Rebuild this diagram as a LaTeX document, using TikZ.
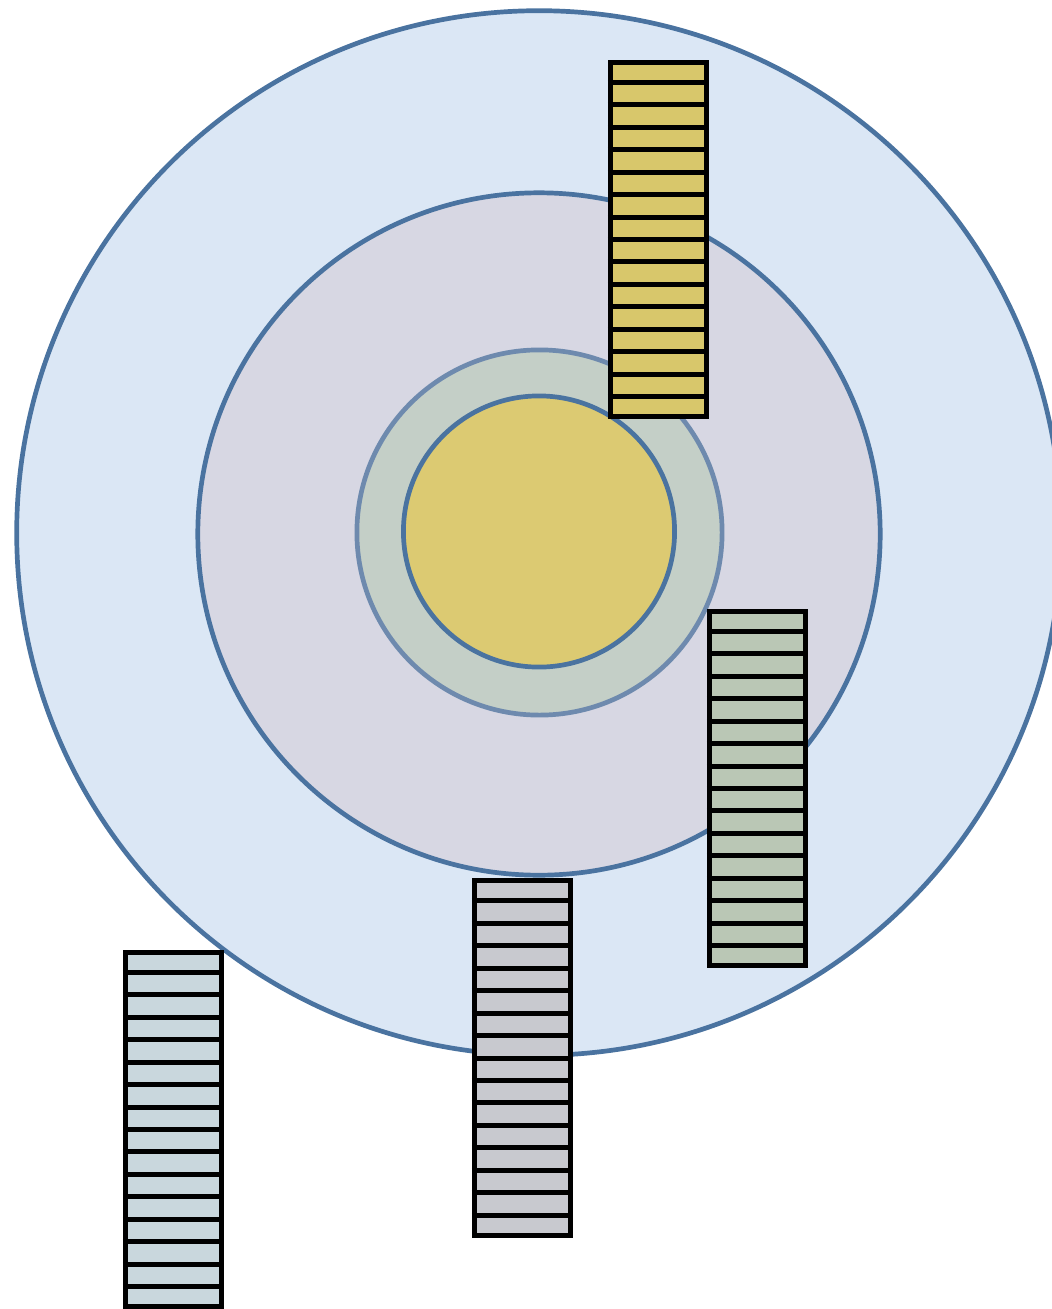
\documentclass[tikz,border=0pt]{standalone}
\usetikzlibrary{calc}

\definecolor{ringblue}{HTML}{4A73A0}
\definecolor{halorim}{HTML}{6E8AAE}
\definecolor{skyfill}{HTML}{DBE7F5}
\definecolor{lilacfill}{HTML}{D7D7E3}
\definecolor{halofill}{HTML}{C4CFC7}
\definecolor{corefill}{HTML}{DCCA72}
\definecolor{stackgold}{HTML}{D8C76B}
\definecolor{stacksage}{HTML}{BAC7B5}
\definecolor{stackslate}{HTML}{C8C9CF}
\definecolor{stackfrost}{HTML}{C9D7DD}

\begin{document}
\begin{tikzpicture}[
    x=0.01cm,
    y=-0.01cm,
    ring/.style={
        circle,
        draw=ringblue,
        line width=0.047cm,
        inner sep=0pt
    },
    stack/.style={
        rectangle,
        draw=black,
        line width=0.05cm,
        minimum width=0.96cm,
        minimum height=3.54cm,
        inner sep=0pt
    },
    rung/.style={
        draw=black,
        line width=0.05cm
    }
]

\useasboundingbox (0,0) rectangle (1052,1309);
\clip (0,0) rectangle (1052,1309);

% rings
\node[ring, fill=skyfill, minimum size=10.44cm] (outer) at (539,533) {};
\node[ring, fill=lilacfill, minimum size=6.82cm] (middle) at (539,534) {};
\node[ring, draw=halorim, fill=halofill, minimum size=3.65cm] (halo) at (539.5,532.5) {};
\node[ring, fill=corefill, minimum size=2.71cm] (core) at (539,531.5) {};

% stacks
\node[stack, fill=stackgold] (gold) at (658.5,239.5) {};
\node[stack, fill=stacksage] (sage) at (757.5,788.5) {};
\node[stack, fill=stackslate] (slate) at (522.5,1058) {};
\node[stack, fill=stackfrost] (frost) at (173.5,1129.5) {};

\foreach \name in {gold, sage, slate, frost}
    \foreach \k in {1,...,15}
        \draw[rung] ($(\name.north west)!\k/16!(\name.south west)$)
            -- ($(\name.north east)!\k/16!(\name.south east)$);

\end{tikzpicture}
\end{document}
